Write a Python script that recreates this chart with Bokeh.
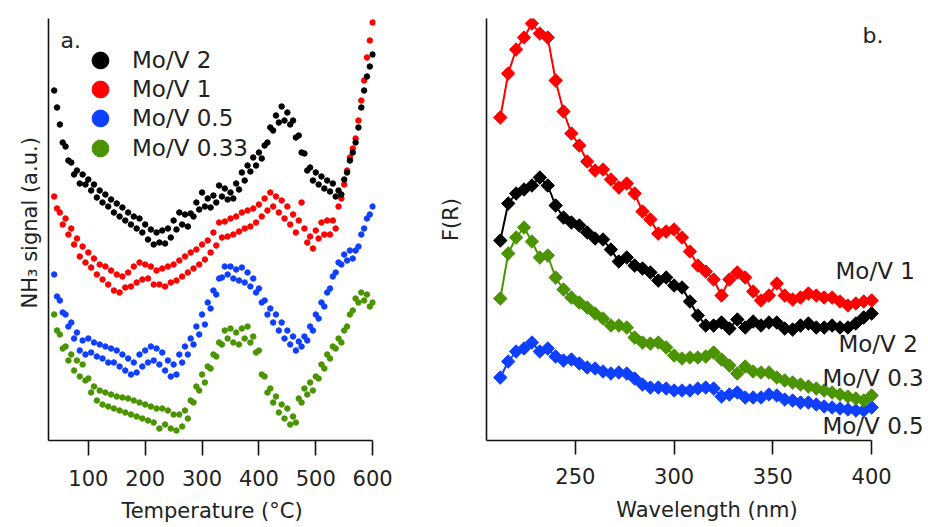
import math
from bokeh.plotting import figure
from bokeh.models import ColumnDataSource, FixedTicker, Legend, LegendItem, Label, Range1d
from bokeh.layouts import row
from bokeh.embed import file_html
from bokeh.resources import INLINE

# ---------------- panel a: NH3-TPD ----------------
temperature = list(range(40, 601, 5))
temp_ticks = [100, 200, 300, 400, 500, 600]

nh3_mov2 = [
    352, 335, 318, 300, 296, 282, 280, 268, 272, 259,
    268, 258, 263, 252, 258, 245, 252, 240, 248, 236,
    243, 230, 239, 226, 235, 222, 230, 218, 226, 214,
    224, 210, 218, 203, 213, 198, 210, 200, 212, 199,
    214, 205, 222, 213, 230, 218, 228, 216, 229, 226,
    240, 233, 250, 236, 244, 235, 247, 240, 257, 246,
    254, 243, 250, 244, 259, 253, 270, 262, 277, 271,
    285, 277, 290, 284, 297, 300, 315, 312, 327, 320,
    336, 322, 330, 318, 322, 305, 307, 290, 289, 272,
    275, 262, 270, 258, 266, 254, 262, 251, 259, 246,
    252, 248, 263, 270, 282, 290, 300, 315, 335, 352,
    366, 376, 388]
nh3_mov1 = [
    246, 234, 230, 218, 224, 208, 214, 198, 204, 186,
    196, 180, 190, 175, 184, 168, 178, 163, 176, 158,
    172, 152, 168, 150, 166, 155, 170, 156, 176, 160,
    180, 163, 178, 164, 176, 158, 172, 158, 174, 156,
    176, 160, 178, 162, 182, 166, 186, 170, 190, 174,
    193, 178, 198, 183, 202, 190, 210, 197, 220, 205,
    221, 206, 224, 208, 226, 211, 230, 214, 232, 216,
    234, 220, 238, 226, 244, 232, 250, 236, 246, 230,
    242, 224, 236, 218, 228, 210, 222, 240, 214, 200,
    206, 194, 212, 204, 220, 208, 222, 208, 222, 214,
    236, 244, 258, 272, 285, 294, 304, 322, 342, 362,
    385, 402, 420]
nh3_mov05 = [
    168, 146, 142, 130, 128, 116, 120, 104, 110, 92,
    102, 88, 104, 90, 100, 86, 98, 84, 96, 80,
    94, 80, 92, 76, 88, 72, 84, 68, 80, 70,
    88, 76, 92, 80, 96, 82, 94, 78, 90, 72,
    82, 66, 78, 68, 88, 80, 96, 88, 104, 98,
    116, 108, 128, 118, 140, 134, 152, 148, 164, 165,
    176, 168, 176, 164, 173, 162, 175, 160, 170, 156,
    164, 150, 154, 140, 142, 128, 134, 120, 128, 112,
    120, 104, 112, 98, 106, 92, 101, 96, 106, 102,
    116, 112, 128, 124, 140, 136, 150, 154, 166, 170,
    180, 178, 188, 182, 192, 184, 192, 196, 208, 214,
    224, 228, 236]
nh3_mov033 = [
    128, 112, 108, 94, 96, 82, 88, 72, 82, 66,
    78, 62, 64, 50, 56, 42, 52, 38, 50, 36,
    48, 34, 46, 32, 45, 30, 44, 28, 42, 26,
    40, 24, 38, 22, 36, 20, 34, 14, 34, 18,
    32, 14, 28, 12, 28, 16, 32, 24, 42, 40,
    56, 52, 68, 60, 76, 74, 88, 86, 100, 98,
    112, 104, 114, 100, 110, 98, 114, 104, 116, 100,
    106, 90, 92, 68, 66, 50, 54, 40, 46, 30,
    38, 24, 34, 18, 26, 20, 44, 40, 54, 48,
    60, 52, 66, 64, 78, 74, 88, 84, 96, 94,
    104, 100, 112, 116, 128, 132, 144, 140, 150, 142,
    148, 136, 140]

# ---------------- panel b: UV-vis DRS ----------------
wavelength = list(range(212, 401, 4))
wl_ticks = [250, 300, 350, 400]

fr_mov1 = [
    318, 362, 386, 398, 412, 402, 398, 355,
    324, 302, 290, 274, 265, 266, 256, 248,
    252, 242, 224, 216, 202, 204, 206, 198,
    184, 170, 164, 156, 140, 156, 163, 158,
    144, 135, 140, 152, 140, 136, 138, 142,
    140, 138, 138, 134, 130, 132, 134, 135]
fr_mov2 = [
    195, 232, 242, 246, 250, 258, 250, 230,
    218, 213, 210, 203, 197, 196, 186, 174,
    178, 170, 167, 163, 155, 158, 150, 148,
    134, 120, 110, 110, 113, 107, 116, 108,
    114, 110, 113, 113, 107, 106, 110, 112,
    108, 108, 110, 108, 108, 112, 118, 122]
fr_mov033 = [
    137, 182, 198, 208, 194, 178, 180, 158,
    146, 138, 133, 128, 122, 117, 110, 110,
    108, 98, 93, 92, 93, 88, 80, 77,
    78, 78, 79, 83, 76, 70, 62, 69,
    64, 63, 63, 58, 55, 53, 51, 49,
    47, 45, 43, 41, 39, 37, 35, 40]
fr_mov05 = [
    58, 74, 84, 87, 93, 84, 87, 79,
    75, 76, 72, 68, 67, 64, 62, 63,
    62, 57, 51, 48, 48, 47, 45, 45,
    45, 47, 48, 47, 39, 41, 43, 38,
    38, 38, 41, 40, 36, 35, 33, 33,
    31, 29, 28, 27, 26, 25, 25, 28]

FONT = "DejaVu Sans"
TXT = "#222222"
BLACK, RED, BLUE, GREEN = "#000000", "#ff0000", "#1040ff", "#4a9400"
NBSP = "\u00a0"


def style_axes(p, xticks, xbounds, tick_out, lab_standoff, axlab_standoff, xlabel, ylabel, ylab_standoff):
    p.outline_line_color = None
    p.xgrid.grid_line_color = None
    p.ygrid.grid_line_color = None
    xa = p.xaxis[0]
    xa.ticker = FixedTicker(ticks=xticks)
    xa.bounds = xbounds
    xa.axis_line_width = 1.6
    xa.axis_line_color = "#111111"
    xa.major_tick_line_width = 1.6
    xa.major_tick_line_color = "#111111"
    xa.major_tick_out = tick_out
    xa.major_tick_in = 0
    xa.minor_tick_out = 0
    xa.minor_tick_in = 0
    xa.major_label_standoff = lab_standoff
    xa.major_label_text_font = FONT
    xa.major_label_text_font_size = "21px"
    xa.major_label_text_color = TXT
    xa.axis_label = xlabel
    xa.axis_label_text_font = FONT
    xa.axis_label_text_font_size = "21px"
    xa.axis_label_text_font_style = "normal"
    xa.axis_label_text_color = TXT
    xa.axis_label_standoff = axlab_standoff
    ya = p.yaxis[0]
    ya.ticker = FixedTicker(ticks=[])
    ya.axis_line_width = 1.6
    ya.axis_line_color = "#111111"
    ya.major_tick_out = 0
    ya.major_tick_in = 0
    ya.minor_tick_out = 0
    ya.minor_tick_in = 0
    ya.major_label_text_font_size = "0px"
    ya.major_label_standoff = 0
    ya.axis_label = ylabel
    ya.axis_label_text_font = FONT
    ya.axis_label_text_font_size = "21px"
    ya.axis_label_text_font_style = "normal"
    ya.axis_label_text_color = TXT
    ya.axis_label_standoff = ylab_standoff


# ---------- figure a ----------
src_a = ColumnDataSource(dict(t=temperature, m2=nh3_mov2, m1=nh3_mov1, m05=nh3_mov05, m033=nh3_mov033))
pa = figure(width=425, height=527, x_range=Range1d(30, 605), y_range=Range1d(2, 424),
            output_backend="svg", toolbar_location=None,
            min_border_left=48, min_border_right=50, min_border_top=18, min_border_bottom=87)
style_axes(pa, temp_ticks, (30, 600), 15, 14, 10, "Temperature (°C)",
           NBSP * 2 + "NH₃ signal (a.u.)", 7)

r_m05 = pa.scatter("t", "m05", source=src_a, size=5.5, color=BLUE)
r_m033 = pa.scatter("t", "m033", source=src_a, size=5.5, color=GREEN)
r_m1 = pa.scatter("t", "m1", source=src_a, size=5.5, color=RED)
r_m2 = pa.scatter("t", "m2", source=src_a, size=5.5, color=BLACK)

for lab, rend, vy in (("Mo/V 2", r_m2, 359), ("Mo/V 1", r_m1, 330),
                      ("Mo/V 0.5", r_m05, 301), ("Mo/V 0.33", r_m033, 271)):
    pa.add_layout(Legend(items=[LegendItem(label=lab, renderers=[rend])],
                         location=(31, vy), glyph_width=42, glyph_height=42,
                         padding=0, margin=0, label_standoff=11,
                         label_text_font=FONT, label_text_font_size="23px",
                         label_text_color=TXT, border_line_color=None,
                         background_fill_alpha=0))
pa.add_layout(Label(x=51, y=402.5, text="a.", text_font=FONT, text_font_size="22px",
                    text_baseline="middle", text_align="left", text_color=TXT))

# ---------- figure b ----------
src_b = ColumnDataSource(dict(w=wavelength, m1=fr_mov1, m2=fr_mov2, m033=fr_mov033, m05=fr_mov05))
pb = figure(width=502, height=527, x_range=Range1d(205, 428.3), y_range=Range1d(-5, 417),
            output_backend="svg", toolbar_location=None,
            min_border_left=61, min_border_right=0, min_border_top=18, min_border_bottom=87)
style_axes(pb, wl_ticks, (205, 400), 14, 13, 11, "Wavelength (nm)", NBSP * 3 + "F(R)", 24)

for col, colr in (("m05", BLUE), ("m033", GREEN), ("m2", BLACK), ("m1", RED)):
    pb.line("w", col, source=src_b, line_color=colr, line_width=2)
    pb.scatter("w", col, source=src_b, marker="square", size=9.5, angle=math.pi / 4,
               fill_color=colr, line_color=colr)

for txt, lx, ly in (("Mo/V 1", 381.7, 165), ("Mo/V 2", 383.2, 92),
                    ("Mo/V 0.3", 375.1, 58), ("Mo/V 0.5", 375.1, 10)):
    pb.add_layout(Label(x=lx, y=ly, text=txt, text_font=FONT, text_font_size="23px",
                        text_baseline="middle", text_align="left", text_color=TXT))
pb.add_layout(Label(x=395.4, y=399.6, text="b.", text_font=FONT, text_font_size="22px",
                    text_baseline="middle", text_align="left", text_color=TXT))

layout = row(pa, pb)
open("out.html", "w").write(file_html(layout, INLINE))
